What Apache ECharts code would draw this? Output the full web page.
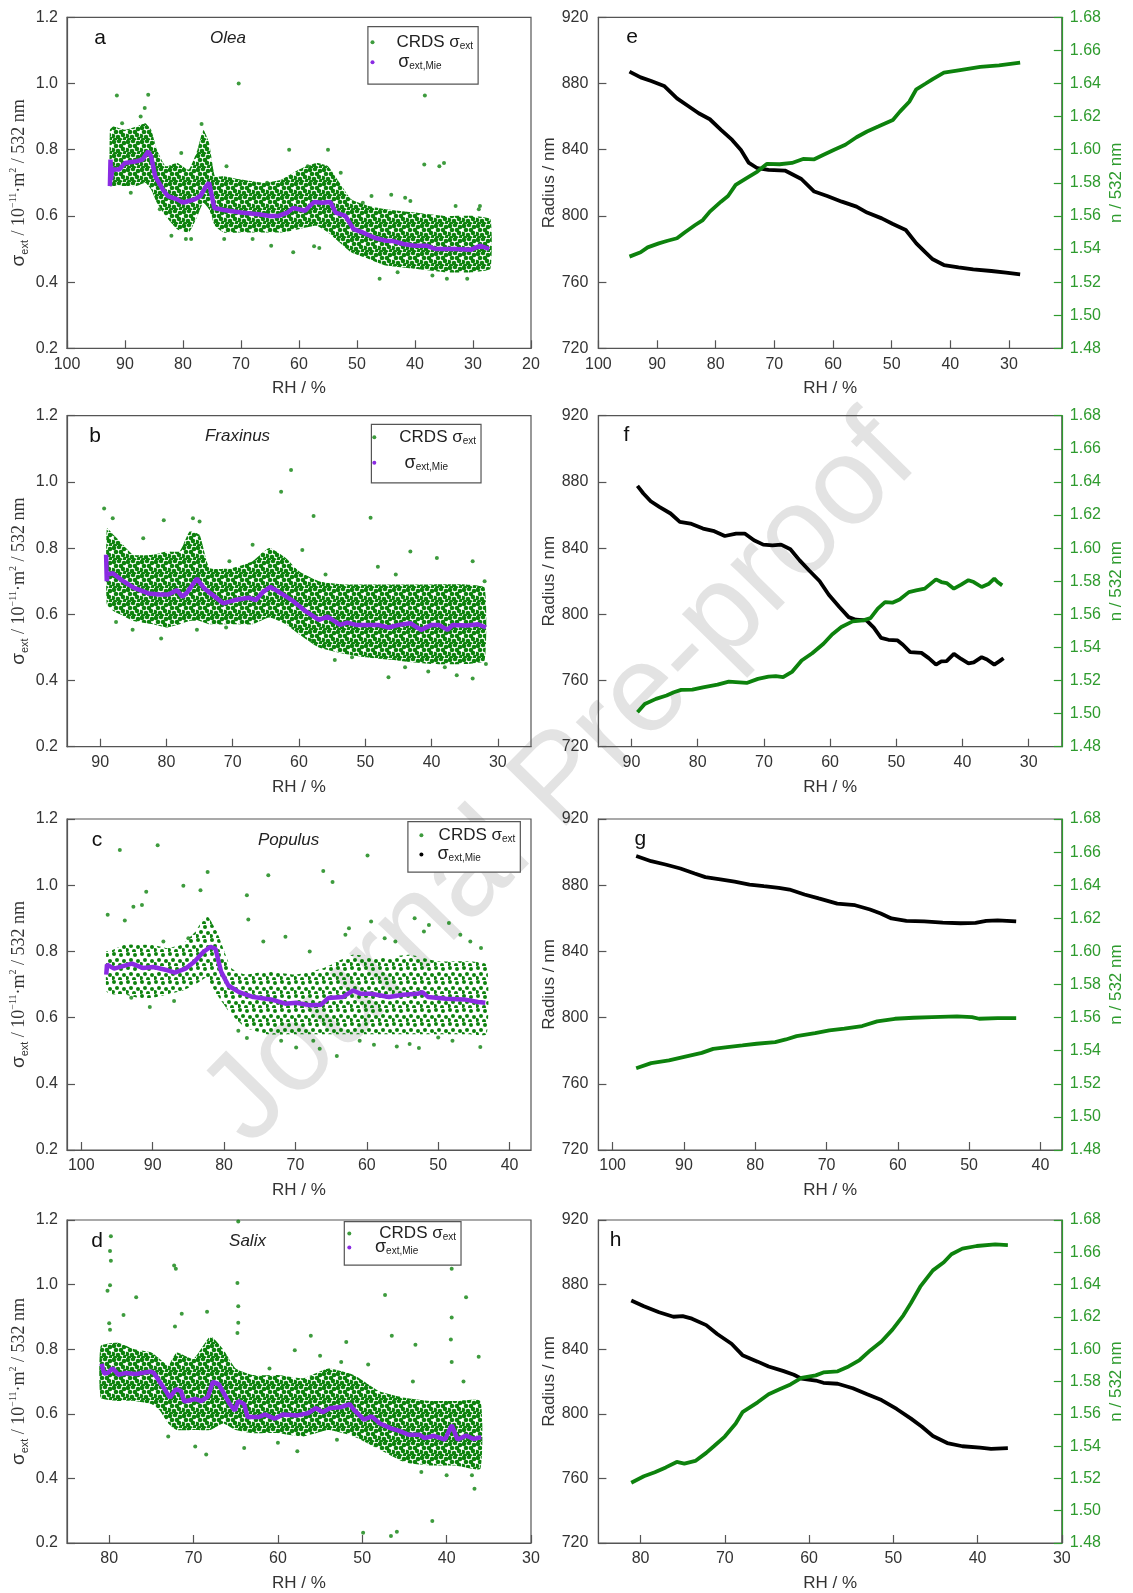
<!DOCTYPE html>
<html lang="en">
<head>
<meta charset="UTF-8">
<title>RH dependence of extinction, radius and refractive index</title>
<script src="https://cdn.jsdelivr.net/npm/echarts@6/dist/echarts.min.js"></script>
<style>
  html, body { margin: 0; padding: 0; background: #fff; }
  #chart { width: 1133px; height: 1593px; }
</style>
</head>
<body>
<div id="chart"></div>
<script>
// ---------- data ----------
// x tick labels (RH / %)
var ticksA = [100, 90, 80, 70, 60, 50, 40, 30, 20];
var ticksB = [90, 80, 70, 60, 50, 40, 30];
var ticksC = [100, 90, 80, 70, 60, 50, 40];
var ticksD = [80, 70, 60, 50, 40, 30];
var ticksE = [100, 90, 80, 70, 60, 50, 40, 30];

// a - Olea: envelope of the CRDS cloud, Mie curve, stray points
var bandA_rh = [92.6, 92, 90, 88, 86.5, 85.5, 84.5, 83, 81, 79, 77.5, 76.5, 75.5, 74.5, 73, 70, 66, 63, 60, 57, 55, 53, 51, 48, 45, 40, 35, 30, 27];
var bandA_up = [0.86, 0.87, 0.86, 0.87, 0.88, 0.86, 0.80, 0.75, 0.76, 0.74, 0.80, 0.86, 0.82, 0.72, 0.72, 0.71, 0.70, 0.71, 0.74, 0.76, 0.75, 0.70, 0.65, 0.63, 0.62, 0.61, 0.60, 0.60, 0.59];
var bandA_lo = [0.69, 0.69, 0.69, 0.69, 0.70, 0.68, 0.64, 0.60, 0.56, 0.55, 0.60, 0.64, 0.62, 0.57, 0.55, 0.55, 0.55, 0.55, 0.56, 0.57, 0.55, 0.52, 0.49, 0.47, 0.45, 0.44, 0.43, 0.43, 0.44];
var mieA_rh = [92.6, 92.5, 92.4, 92.2, 91, 90, 88, 87, 86, 85.5, 84.8, 83.5, 82.6, 81, 80, 79, 78, 77, 76, 75.5, 74.6, 73, 71.5, 70, 67, 65, 63.5, 62, 61, 60, 59, 57.4, 56, 54.6, 53.7, 52, 50.6, 49, 47, 45, 43.8, 42, 40.1, 38, 36.5, 33, 30.3, 28.8, 27.2];
var mieA = [0.69, 0.77, 0.71, 0.74, 0.74, 0.76, 0.765, 0.77, 0.795, 0.78, 0.72, 0.68, 0.66, 0.65, 0.64, 0.645, 0.65, 0.66, 0.69, 0.70, 0.624, 0.618, 0.614, 0.61, 0.605, 0.60, 0.60, 0.61, 0.624, 0.62, 0.615, 0.642, 0.64, 0.642, 0.61, 0.60, 0.56, 0.55, 0.534, 0.525, 0.524, 0.515, 0.51, 0.51, 0.50, 0.50, 0.498, 0.51, 0.50];
var crdsA = [[91.4, 0.964], [86, 0.966], [70.4, 1.0], [38.3, 0.964], [38.4, 0.755], [35, 0.76], [35.8, 0.75], [61.7, 0.80], [55, 0.80], [64.8, 0.51], [61, 0.49], [46.1, 0.41], [34.5, 0.41], [44.1, 0.664], [76.8, 0.878], [78.6, 0.53], [72.9, 0.53], [57.4, 0.508], [56.5, 0.503], [52.8, 0.73], [41.7, 0.655], [40.8, 0.645], [28.8, 0.63], [86.6, 0.926], [87.3, 0.90], [90.5, 0.88], [80.3, 0.79], [72.5, 0.75], [65.5, 0.70], [47.5, 0.66],
  [82, 0.54], [79.5, 0.53], [68, 0.53], [58.5, 0.75], [49, 0.64], [43, 0.43], [37, 0.42], [31, 0.41], [29, 0.62], [33, 0.63], [84, 0.62], [89, 0.67]];

// b - Fraxinus
var bandB_rh = [89, 88, 87, 85, 82, 80, 78, 76.5, 75, 73.5, 70, 67, 64.5, 62, 60, 57, 53, 50, 45, 40, 35, 32];
var bandB_up = [0.86, 0.84, 0.82, 0.78, 0.78, 0.79, 0.79, 0.85, 0.84, 0.74, 0.74, 0.76, 0.80, 0.77, 0.73, 0.70, 0.69, 0.69, 0.69, 0.69, 0.69, 0.68];
var bandB_lo = [0.63, 0.61, 0.60, 0.58, 0.57, 0.56, 0.57, 0.58, 0.58, 0.57, 0.57, 0.57, 0.59, 0.57, 0.54, 0.50, 0.48, 0.47, 0.46, 0.45, 0.45, 0.46];
var mieB_rh = [89.1, 89.0, 88.9, 88.1, 86.5, 84.9, 82.7, 81.1, 79.7, 78.4, 77.6, 76.8, 75.4, 74.3, 73, 71.4, 69.7, 67.6, 66.5, 65.4, 64.3, 62.7, 61.1, 58.9, 57, 55.7, 53.8, 52.7, 51.4, 48.1, 46.5, 44.9, 43.2, 41.6, 40, 38.9, 37.6, 36.8, 34.6, 33, 31.8];
var mieB = [0.78, 0.70, 0.72, 0.724, 0.70, 0.68, 0.663, 0.66, 0.66, 0.673, 0.653, 0.668, 0.708, 0.678, 0.658, 0.633, 0.643, 0.65, 0.643, 0.668, 0.683, 0.663, 0.643, 0.608, 0.583, 0.593, 0.568, 0.575, 0.568, 0.568, 0.56, 0.568, 0.573, 0.553, 0.568, 0.568, 0.553, 0.568, 0.566, 0.57, 0.56];
var crdsB = [[62.7, 0.97], [61.2, 1.036], [57.8, 0.897], [49.2, 0.892], [89.4, 0.92], [80.4, 0.884], [88.1, 0.89], [43.2, 0.79], [39.2, 0.77], [33.8, 0.76], [46.5, 0.41], [33.8, 0.406], [59.5, 0.794], [75.4, 0.553], [85.1, 0.553], [80.8, 0.527], [87.6, 0.577], [54.6, 0.462], [40.5, 0.427], [36.2, 0.416], [48.1, 0.744], [45.4, 0.72], [83.5, 0.83], [76, 0.89], [75, 0.88], [67, 0.81], [52, 0.47], [38, 0.44],
  [70.5, 0.76], [65.5, 0.78], [56, 0.72], [44, 0.44], [31.8, 0.45], [32, 0.70], [58, 0.52], [71, 0.56]];

// c - Populus
var bandC_rh = [96.5, 96, 94, 92, 90, 88, 86, 84, 82.5, 81, 79, 77, 74, 70, 66, 62, 58, 54, 50, 46, 43.2];
var bandC_up = [0.80, 0.80, 0.82, 0.82, 0.82, 0.81, 0.82, 0.86, 0.91, 0.86, 0.75, 0.73, 0.74, 0.73, 0.75, 0.79, 0.78, 0.79, 0.77, 0.77, 0.76];
var bandC_lo = [0.68, 0.67, 0.67, 0.66, 0.66, 0.67, 0.68, 0.70, 0.72, 0.67, 0.61, 0.57, 0.55, 0.55, 0.55, 0.55, 0.55, 0.55, 0.55, 0.55, 0.55];
var mieC_rh = [96.5, 96.4, 95.4, 92.9, 91.4, 89.9, 87.9, 86.9, 85.4, 84.2, 82.9, 81.9, 81.2, 80.4, 79.4, 77.9, 75.9, 73.4, 71.4, 69.9, 67.9, 66.4, 65.4, 63.4, 61.9, 60.9, 59.4, 56.9, 54.9, 52.9, 52.2, 51.4, 48.9, 46.4, 44.4, 43.4];
var mieC = [0.73, 0.76, 0.748, 0.763, 0.75, 0.753, 0.743, 0.736, 0.748, 0.768, 0.798, 0.814, 0.808, 0.738, 0.697, 0.677, 0.662, 0.655, 0.642, 0.645, 0.637, 0.639, 0.659, 0.662, 0.682, 0.672, 0.672, 0.662, 0.669, 0.672, 0.677, 0.662, 0.657, 0.655, 0.647, 0.645];
var crdsC = [[94.6, 1.106], [89.3, 1.121], [96.3, 0.911], [93.9, 0.893], [92.7, 0.935], [90.9, 0.98], [91.5, 0.94], [85.7, 0.998], [83.3, 0.985], [82.3, 1.04], [76.8, 0.97], [76.6, 0.896], [73.8, 1.03], [66.1, 1.043], [64.8, 1.01], [59.9, 1.09], [59.4, 0.89], [53.3, 0.90], [51.3, 0.88], [48.5, 0.886], [46.9, 0.85], [71.4, 0.844], [69.9, 0.51], [64.2, 0.484], [55.8, 0.513], [52.7, 0.508], [44.1, 0.511], [66.6, 0.506], [90.4, 0.632], [76.8, 0.538], [59, 0.518], [62.5, 0.87], [56, 0.83], [44, 0.81], [72, 0.53], [48, 0.53],
  [74.5, 0.83], [68, 0.80], [63, 0.85], [57.5, 0.84], [52, 0.86], [45.5, 0.83], [61, 0.53], [54, 0.52], [50, 0.54], [67.5, 0.53], [78, 0.56], [87, 0.65], [93, 0.66], [85, 0.84], [88.5, 0.83]];

// d - Salix
var bandD_rh = [81, 79, 77, 75, 74, 73, 72, 70, 68, 66.5, 65, 63, 60, 57, 54, 51, 48, 45, 42, 39, 36];
var bandD_up = [0.81, 0.82, 0.80, 0.79, 0.77, 0.75, 0.79, 0.77, 0.84, 0.80, 0.74, 0.72, 0.72, 0.71, 0.74, 0.72, 0.67, 0.65, 0.64, 0.64, 0.64];
var bandD_lo = [0.65, 0.64, 0.64, 0.63, 0.61, 0.57, 0.55, 0.55, 0.55, 0.57, 0.55, 0.54, 0.54, 0.53, 0.55, 0.53, 0.49, 0.45, 0.44, 0.44, 0.43];
var mieD_rh = [80.9, 80.6, 80.2, 79.6, 78.9, 78.1, 76.8, 75.1, 74.7, 73.8, 72.8, 72.1, 71.5, 71.1, 69.8, 69.1, 68.3, 67.7, 67, 65.7, 65.1, 64.7, 64, 63.6, 62.3, 61.5, 60.4, 59.4, 57.7, 56.4, 55.5, 54.7, 53.8, 52.6, 51.5, 50.9, 49.8, 48.9, 47.9, 46.6, 45.7, 44.5, 43.2, 42.6, 41.5, 40.2, 39.4, 38.7, 37.7, 36.8, 35.9];
var mieD = [0.755, 0.725, 0.726, 0.741, 0.721, 0.726, 0.723, 0.731, 0.726, 0.691, 0.65, 0.676, 0.671, 0.638, 0.646, 0.639, 0.653, 0.699, 0.691, 0.63, 0.61, 0.64, 0.63, 0.59, 0.59, 0.598, 0.585, 0.598, 0.595, 0.602, 0.618, 0.605, 0.618, 0.62, 0.63, 0.61, 0.582, 0.592, 0.57, 0.555, 0.548, 0.535, 0.535, 0.525, 0.532, 0.52, 0.565, 0.52, 0.533, 0.522, 0.528];
var crdsD = [[79.8, 1.15], [79.9, 1.104], [79.8, 1.074], [79.9, 0.998], [80.2, 0.981], [76.8, 0.961], [78.3, 0.906], [72.3, 1.059], [72.1, 1.049], [71.4, 0.91], [64.8, 1.005], [64.7, 0.933], [64.7, 0.882], [64.7, 1.195], [68.4, 0.916], [56.1, 0.842], [58, 0.797], [51.9, 0.822], [47.3, 0.968], [46.5, 0.842], [43.7, 0.814], [39.4, 1.049], [39.4, 0.898], [37.7, 0.961], [36.7, 0.368], [41.7, 0.268], [49.9, 0.232], [46.6, 0.222], [45.9, 0.235], [36.2, 0.777], [49.3, 0.753], [69.8, 0.499], [68.5, 0.474], [57.7, 0.484], [64, 0.494], [39.5, 0.83], [39.4, 0.76], [64.8, 0.85], [72.2, 0.87], [80, 0.88], [79.9, 0.86],
  [61, 0.74], [55, 0.78], [52.5, 0.76], [44, 0.70], [38, 0.70], [40, 0.41], [43, 0.42], [37, 0.41], [60, 0.51], [53, 0.52], [73, 0.53]];

// e-h: radius (nm) and refractive index n
var rhE_r = [94.7, 92.8, 91, 88.8, 86.6, 84.7, 82.9, 81, 79.1, 77.2, 75.7, 74.4, 72.9, 71, 68.2, 65.4, 63.2, 61, 58.5, 56, 54.2, 51.7, 49.8, 47.6, 45.8, 44.2, 43, 41.1, 38.6, 36.1, 33, 30.5, 28.1];
var radE = [887.2, 883.7, 881.5, 878.5, 871, 866.4, 862, 858.4, 852, 845.9, 839.8, 832.2, 828.8, 827.8, 827.4, 822.3, 814.7, 812, 808.6, 805.6, 802, 798.5, 795.1, 791.5, 783.4, 777.8, 773.8, 770.3, 768.9, 767.7, 766.7, 765.7, 764.7];
var rhE_n = [94.7, 92.8, 91.6, 89.7, 88.2, 86.6, 85.3, 83.5, 82.2, 81, 79.1, 77.9, 76.6, 74.8, 72.9, 71.3, 69.1, 67, 65.1, 63.2, 61.7, 59.8, 57.9, 56, 54.2, 52.3, 49.8, 48.6, 47, 45.8, 44.2, 43, 41.1, 38.6, 34.9, 31.7, 28.1];
var nE = [1.5354, 1.538, 1.541, 1.5434, 1.545, 1.5465, 1.55, 1.5545, 1.5575, 1.5626, 1.5686, 1.572, 1.5787, 1.5827, 1.5868, 1.5914, 1.5912, 1.592, 1.5944, 1.5942, 1.5968, 1.6, 1.603, 1.6075, 1.611, 1.614, 1.618, 1.623, 1.629, 1.6365, 1.640, 1.6427, 1.6466, 1.648, 1.650, 1.651, 1.6526];

var rhF_r = [89.1, 88.2, 87.1, 85.8, 84.1, 82.7, 81.1, 79.2, 77.5, 75.9, 74.2, 72.9, 71.5, 70.1, 68.7, 67.4, 66, 64.6, 63.2, 61.6, 60.2, 58.6, 57.2, 56.1, 54.5, 53.4, 52.3, 51.2, 49.8, 49, 47.9, 46.2, 45.1, 44, 43.2, 42.4, 41.3, 40.2, 39.1, 38.3, 37.1, 36.3, 35.2, 34.4, 33.8];
var radF = [877.6, 873, 868.3, 864.9, 860.9, 855.8, 854.8, 851.8, 850.2, 847.3, 848.8, 848.8, 844.7, 842.1, 841.7, 842.1, 839.3, 832.6, 826.6, 820.1, 811.8, 804.4, 798.3, 796.7, 796.3, 791.9, 785.8, 784.6, 784.2, 781.6, 777.1, 776.7, 773.5, 769.6, 771.5, 771.7, 776.1, 773, 770.4, 771, 774.1, 772.7, 769.6, 771.7, 773.5];
var rhF_n = [89.1, 88, 86.3, 84.7, 83.6, 82.5, 80.8, 79.2, 77, 75.3, 73.7, 72.6, 70.9, 69.3, 68.2, 67.1, 65.7, 64.3, 62.7, 61, 59.7, 58.3, 56.6, 55, 53.9, 52.8, 51.7, 50.6, 49.5, 48.1, 47, 45.7, 44, 43.2, 42.4, 41.3, 40.2, 39.1, 38.3, 37.1, 36, 35.2, 34.7, 34];
var nF = [1.5008, 1.5058, 1.5089, 1.5109, 1.5129, 1.5143, 1.5145, 1.5159, 1.5175, 1.5193, 1.5189, 1.5185, 1.521, 1.5224, 1.5226, 1.522, 1.5254, 1.5321, 1.5365, 1.5422, 1.5478, 1.5523, 1.5557, 1.5563, 1.5577, 1.5634, 1.5674, 1.567, 1.569, 1.5734, 1.5744, 1.5755, 1.5811, 1.5795, 1.5789, 1.5755, 1.5779, 1.5806, 1.5795, 1.5765, 1.5785, 1.5815, 1.5795, 1.5775];

var rhG_r = [96.7, 94.6, 92.6, 90.5, 88.5, 87, 84.9, 82.9, 80.8, 78.8, 76.7, 75.2, 73.1, 71.1, 68.5, 66, 63.9, 62.4, 60.9, 58.8, 56.3, 53.7, 51.2, 49.1, 47.6, 46, 43.4];
var radG = [897.6, 894.5, 892.5, 890.1, 887.1, 884.9, 883.5, 882.1, 880.4, 879.4, 878.4, 877.4, 874.4, 872, 868.9, 867.9, 865.3, 862.9, 859.9, 858.4, 858.2, 857.4, 857, 857.2, 858.4, 858.8, 858.2];
var rhG_n = [96.7, 94.6, 92.1, 89.5, 87.5, 85.9, 83.9, 81.8, 79.8, 77.2, 75.7, 74.2, 71.6, 69.6, 67.5, 65, 62.9, 60.4, 57.8, 55.2, 51.7, 49.6, 48.6, 46, 43.4];
var nG = [1.5294, 1.5325, 1.5341, 1.5367, 1.5387, 1.5411, 1.5422, 1.5432, 1.5442, 1.5452, 1.5468, 1.5488, 1.5506, 1.5523, 1.5533, 1.5549, 1.5577, 1.5593, 1.5599, 1.5603, 1.5607, 1.5603, 1.5593, 1.5597, 1.5597];

var rhH_r = [81.1, 79.6, 77.8, 76.1, 75, 73.9, 72.2, 70.9, 69.2, 67.9, 66.1, 64.8, 63.1, 61.8, 60.9, 59.2, 58.3, 56.6, 54.8, 53.1, 51.4, 49.6, 47.9, 46.6, 45.3, 43.6, 41.8, 39.7, 38.4, 36.4];
var radH = [870.2, 866.6, 862.9, 860.1, 860.5, 858.9, 854.9, 849.4, 843.4, 836.3, 832.3, 829.3, 826.6, 824.2, 821.8, 820.6, 819.2, 818.6, 815.8, 812.1, 808.5, 803, 797, 792, 786.3, 781.9, 779.9, 779.1, 778.3, 778.7];
var rhH_n = [81.1, 79.6, 78.3, 77, 75.7, 74.8, 73.5, 72.2, 71.3, 70, 68.7, 67.9, 66.1, 64.8, 63.5, 62.2, 60.9, 59.2, 58.3, 56.6, 55.3, 54, 52.7, 51.4, 50.1, 48.8, 47.9, 46.8, 45.3, 44, 43.1, 41.8, 40.1, 37.9, 36.4];
var nH = [1.5173, 1.5213, 1.5238, 1.5268, 1.5302, 1.5292, 1.5308, 1.5358, 1.5399, 1.5459, 1.554, 1.561, 1.5671, 1.5721, 1.5752, 1.5782, 1.5822, 1.5838, 1.5856, 1.5863, 1.5893, 1.5933, 1.5994, 1.6048, 1.6121, 1.621, 1.6286, 1.6387, 1.6488, 1.6538, 1.6588, 1.6623, 1.6639, 1.6649, 1.6645];

// ---------- chart ----------
var chart = echarts.init(document.getElementById('chart'));

var GREEN = '#0d820d', PURPLE = '#8a2be2', AXIS = '#555', TXT = '#333', NGREEN = '#2e9b2e';
var tops = [17.3, 415.7, 819, 1220];
var plotH = 331;

function zip(xs, ys) {
  var out = [];
  for (var i = 0; i < Math.min(xs.length, ys.length); i++) out.push([xs[i], ys[i]]);
  return out;
}

// fill texture for the dense measurement clouds: a tile of green dots
function dotTile(dots, r) {
  var c = document.createElement('canvas');
  c.width = 14; c.height = 14;
  var g = c.getContext('2d');
  g.fillStyle = GREEN;
  dots.forEach(function (d) {
    g.beginPath(); g.arc(d[0], d[1], r, 0, Math.PI * 2); g.fill();
  });
  return c;
}
var denseDots = [[2, 2], [7, 1], [12, 3], [4, 6], [9, 6], [1, 10], [6, 11], [11, 9], [13, 13], [8, 14], [3, 14]];
var sparseDots = [[2, 2], [9, 3], [5, 8], [12, 9], [1, 12], [8, 13]];
var tileDense = dotTile(denseDots, 2.3);
var tileSparse = dotTile(sparseDots, 2.0);

// left panels a-d, then right panels e-h
var left = [
  { id: 'A', min: 20, max: 100, ticks: ticksA, band: [bandA_rh, bandA_up, bandA_lo], tile: tileDense, mie: zip(mieA_rh, mieA), crds: crdsA, mieColor: PURPLE,
    letter: 'a', species: 'Olea', lx: 100, sx: 228,
    legend: { left: 367.9, top: 26.7, pad: [7, 5, 13, 2.6], gap: 2, pc: 16.9, pm: 18.7 } },
  { id: 'B', min: 25, max: 95, ticks: ticksB, band: [bandB_rh, bandB_up, bandB_lo], tile: tileDense, mie: zip(mieB_rh, mieB), crds: crdsB, mieColor: PURPLE,
    letter: 'b', species: 'Fraxinus', lx: 95, sx: 237.5,
    legend: { left: 371.4, top: 424.3, pad: [4.4, 5, 11, 0.9], gap: 7.6, pc: 18, pm: 23.3 } },
  { id: 'C', min: 37, max: 102, ticks: ticksC, band: [bandC_rh, bandC_up, bandC_lo], tile: tileSparse, mie: zip(mieC_rh, mieC), crds: crdsC, mieColor: '#000',
    letter: 'c', species: 'Populus', lx: 97, sx: 288.6,
    legend: { left: 407.9, top: 821.7, pad: [5, 5, 8.7, 11.5], gap: 1.3, pc: 10.2, pm: 9.1 } },
  { id: 'D', min: 30, max: 85, ticks: ticksD, band: [bandD_rh, bandD_up, bandD_lo], tile: tileDense, mie: zip(mieD_rh, mieD), crds: crdsD, mieColor: PURPLE,
    letter: 'd', species: 'Salix', lx: 97, sx: 247.5,
    legend: { left: 344.3, top: 1221.7, pad: [3.3, 5, 8.7, 3], gap: -4, pc: 23, pm: 18.7 } }
];
var right = [
  { min: 21, max: 100, ticks: ticksE, rad: zip(rhE_r, radE), n: zip(rhE_n, nE), letter: 'e', lx: 632 },
  { min: 25, max: 95, ticks: ticksB, rad: zip(rhF_r, radF), n: zip(rhF_n, nF), letter: 'f', lx: 626.5 },
  { min: 37, max: 102, ticks: ticksC, rad: zip(rhG_r, radG), n: zip(rhG_n, nG), letter: 'g', lx: 640.4 },
  { min: 30, max: 85, ticks: ticksD, rad: zip(rhH_r, radH), n: zip(rhH_n, nH), letter: 'h', lx: 615.6 }
];

var grids = [], xAxes = [], yAxes = [], series = [], legends = [], graphics = [];

function xAxisFor(gi, p) {
  return {
    type: 'value', gridIndex: gi, min: p.min, max: p.max, inverse: true,
    name: 'RH / %', nameLocation: 'middle', nameGap: 32,
    nameTextStyle: { fontSize: 17, color: TXT, fontFamily: 'Liberation Sans, Arial' },
    axisLine: { show: true, onZero: false, lineStyle: { color: AXIS, width: 1.2 } },
    axisTick: { show: true, inside: true, length: 8, customValues: p.ticks, lineStyle: { color: AXIS, width: 1.2 } },
    axisLabel: { customValues: p.ticks, fontSize: 16, color: TXT, margin: 8, fontFamily: 'Liberation Sans, Arial' },
    splitLine: { show: false }
  };
}

var sigmaName = '{g|σ}{gs|ext}{r| / 10}{sup|−11}{r|·m}{sup|2}{r| / 532 nm}';
var sigmaRich = {
  g: { fontFamily: 'Liberation Sans, Arial', fontSize: 19, lineHeight: 22, color: TXT },
  gs: { fontFamily: 'Liberation Sans, Arial', fontSize: 11, lineHeight: 4, verticalAlign: 'bottom', color: TXT },
  r: { fontFamily: 'Liberation Serif, Times New Roman, serif', fontSize: 18, lineHeight: 22, color: TXT },
  sup: { fontFamily: 'Liberation Serif, Times New Roman, serif', fontSize: 10, lineHeight: 4, verticalAlign: 'top', color: TXT }
};

left.forEach(function (p, i) {
  grids.push({ left: 67, top: tops[i], width: 464, height: plotH, show: true, borderColor: AXIS, borderWidth: 1.2, backgroundColor: 'transparent' });
  xAxes.push(xAxisFor(i, p));
  yAxes.push({
    type: 'value', gridIndex: i, min: 0.2, max: 1.2, interval: 0.2,
    name: sigmaName, nameLocation: 'middle', nameGap: 37, nameRotate: 90,
    nameTextStyle: { rich: sigmaRich },
    axisLine: { show: true, lineStyle: { color: AXIS, width: 1.2 } },
    axisTick: { show: true, inside: true, length: 8, lineStyle: { color: AXIS, width: 1.2 } },
    axisLabel: { fontSize: 16, color: TXT, margin: 9, fontFamily: 'Liberation Sans, Arial', formatter: function (v) { return v.toFixed(1); } },
    splitLine: { show: false }
  });

  var rh = p.band[0], up = p.band[1], lo = p.band[2], tile = p.tile;
  series.push({
    type: 'custom', xAxisIndex: i, yAxisIndex: i, silent: true, z: 1,
    data: [[rh[0], up[0]]],
    renderItem: function (params, api) {
      var pts = [];
      for (var k = 0; k < rh.length; k++) pts.push(api.coord([rh[k], up[k]]));
      for (var j = rh.length - 1; j >= 0; j--) pts.push(api.coord([rh[j], lo[j]]));
      return { type: 'polygon', shape: { points: pts, smooth: 0.15 }, style: { fill: { image: tile, repeat: 'repeat' } } };
    }
  });
  series.push({
    name: 'crds' + p.id, type: 'scatter', xAxisIndex: i, yAxisIndex: i, z: 3,
    symbolSize: 4, itemStyle: { color: GREEN }, data: p.crds
  });
  series.push({
    name: 'mie' + p.id, type: 'line', xAxisIndex: i, yAxisIndex: i, z: 4,
    showSymbol: false, symbol: 'circle', itemStyle: { color: p.mieColor }, lineStyle: { color: PURPLE, width: 4.5 },
    data: p.mie
  });

  var L = p.legend;
  legends.push({
    orient: 'vertical', left: L.left, top: L.top, padding: L.pad, itemGap: L.gap,
    itemWidth: 4, itemHeight: 4, icon: 'circle',
    borderColor: '#555', borderWidth: 1.2, backgroundColor: '#fff',
    data: [{ name: 'crds' + p.id, itemStyle: { color: GREEN } }, { name: 'mie' + p.id, itemStyle: { color: p.mieColor } }],
    formatter: function (name) {
      return name.indexOf('crds') === 0 ? '{c|CRDS σ}{s|ext}' : '{m|σ}{s|ext,Mie}';
    },
    textStyle: {
      color: '#222', fontFamily: 'Liberation Sans, Arial',
      rich: {
        c: { fontSize: 17, lineHeight: 18, padding: [0, 0, 0, L.pc], color: '#222' },
        m: { fontSize: 18, lineHeight: 18, padding: [0, 0, 0, L.pm], color: '#222' },
        s: { fontSize: 10, lineHeight: 2, verticalAlign: 'bottom', color: '#222' }
      }
    }
  });

  var ly = tops[i] + 21;
  graphics.push({ type: 'text', x: p.lx, y: ly, z: 10,
    style: { text: p.letter, fontSize: 21, fontFamily: 'Liberation Sans, Arial', fill: '#111', align: 'center', verticalAlign: 'middle', textAlign: 'center', textVerticalAlign: 'middle' } });
  graphics.push({ type: 'text', x: p.sx, y: ly, z: 10,
    style: { text: p.species, fontSize: 17, fontStyle: 'italic', fontFamily: 'Liberation Sans, Arial', fill: '#222', align: 'center', verticalAlign: 'middle', textAlign: 'center', textVerticalAlign: 'middle' } });
});

right.forEach(function (p, i) {
  var gi = 4 + i;
  grids.push({ left: 598.4, top: tops[i], width: 463.4, height: plotH, show: true, borderColor: AXIS, borderWidth: 1.2, backgroundColor: 'transparent' });
  xAxes.push(xAxisFor(gi, p));
  yAxes.push({
    type: 'value', gridIndex: gi, min: 720, max: 920, interval: 40,
    name: 'Radius / nm', nameLocation: 'middle', nameGap: 41, nameRotate: 90,
    nameTextStyle: { fontSize: 17, color: TXT, fontFamily: 'Liberation Sans, Arial' },
    axisLine: { show: true, lineStyle: { color: AXIS, width: 1.2 } },
    axisTick: { show: true, inside: true, length: 8, lineStyle: { color: AXIS, width: 1.2 } },
    axisLabel: { fontSize: 16, color: TXT, margin: 10, fontFamily: 'Liberation Sans, Arial' },
    splitLine: { show: false }
  });
  series.push({
    type: 'line', xAxisIndex: gi, yAxisIndex: 4 + i, showSymbol: false, z: 3,
    lineStyle: { color: '#000', width: 3.8 }, data: p.rad
  });
  series.push({
    type: 'line', xAxisIndex: gi, yAxisIndex: 8 + i, showSymbol: false, z: 3,
    lineStyle: { color: GREEN, width: 3.8 }, data: p.n
  });
  graphics.push({ type: 'text', x: p.lx, y: tops[i] + 20, z: 10,
    style: { text: p.letter, fontSize: 21, fontFamily: 'Liberation Sans, Arial', fill: '#111', align: 'center', verticalAlign: 'middle', textAlign: 'center', textVerticalAlign: 'middle' } });
});

right.forEach(function (p, i) {
  yAxes.push({
    type: 'value', gridIndex: 4 + i, position: 'right', min: 1.48, max: 1.68, interval: 0.02,
    name: 'n / 532 nm', nameLocation: 'middle', nameGap: 46, nameRotate: 90,
    nameTextStyle: { fontSize: 17, color: NGREEN, fontFamily: 'Liberation Sans, Arial' },
    axisLine: { show: true, lineStyle: { color: NGREEN, width: 1.2 } },
    axisTick: { show: true, inside: true, length: 8, lineStyle: { color: NGREEN, width: 1.2 } },
    axisLabel: { fontSize: 16, color: NGREEN, margin: 8, fontFamily: 'Liberation Sans, Arial', formatter: function (v) { return v.toFixed(2); } },
    splitLine: { show: false }
  });
});

// journal watermark
graphics.unshift({
  type: 'text', x: 561, y: 782, rotation: Math.PI / 4 + 0.01, z: -1, silent: true,
  style: { text: 'Journal Pre-proof', fontSize: 124, fontFamily: 'Liberation Sans, Arial', fill: '#e3e3e3',
    align: 'center', verticalAlign: 'middle', textAlign: 'center', textVerticalAlign: 'middle' }
});

chart.setOption({
  animation: false,
  backgroundColor: '#fff',
  grid: grids,
  xAxis: xAxes,
  yAxis: yAxes,
  legend: legends,
  graphic: { elements: graphics },
  series: series
});
</script>
</body>
</html>
